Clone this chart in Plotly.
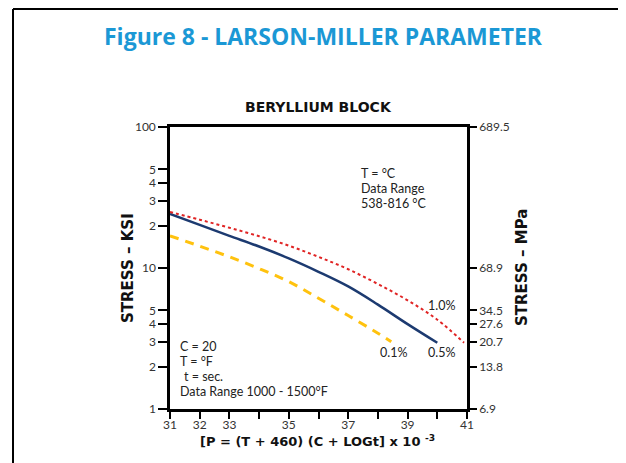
import plotly.graph_objects as go

# ---- data (P parameter x10^-3, stress ksi) ----
p_01 = [31, 32, 33, 34, 35, 36, 37, 38, 38.45]
s_01 = [16.9, 14.3, 12.0, 9.9, 8.0, 6.1, 4.6, 3.45, 3.0]

p_05 = [31, 32, 33, 34, 35, 36, 37, 38, 39, 40]
s_05 = [24.2, 20.2, 16.9, 14.2, 11.7, 9.4, 7.4, 5.5, 4.0, 2.95]

p_10 = [31, 32, 33, 34, 35, 36, 37, 38, 39, 40, 40.9]
s_10 = [25.0, 22.0, 19.3, 16.8, 14.4, 12.0, 9.8, 7.7, 5.9, 4.3, 2.95]

x_tickvals = [31, 32, 33, 35, 37, 39, 41]
ksi_tickvals = [1, 2, 3, 4, 5, 10, 20, 30, 40, 50, 100]
ksi_ticktext = ["1", "2", "3", "4", "5", "10", "2", "3", "4", "5", "100"]
mpa_tickvals = [1, 2, 3, 4, 5, 10, 100]
mpa_ticktext = ["6.9", "13.8", "20.7", "27.6", "34.5", "68.9", "689.5"]

FONT = "Lato"
BOLD = "DejaVu Sans"

fig = go.Figure()
fig.add_trace(go.Scatter(x=p_01, y=s_01, mode="lines", line=dict(color="#ffc20e", width=3, dash="9px,7px", shape="spline"), showlegend=False))
fig.add_trace(go.Scatter(x=p_05, y=s_05, mode="lines", line=dict(color="#1c3a70", width=2.5, shape="spline"), showlegend=False))
fig.add_trace(go.Scatter(x=p_10, y=s_10, mode="lines", line=dict(color="#e02424", width=2, dash="dot", shape="spline"), showlegend=False))
fig.add_trace(go.Scatter(x=[31], y=[1], yaxis="y2", mode="markers", marker=dict(opacity=0), showlegend=False, hoverinfo="skip"))

axis_common = dict(showline=True, linecolor="black", linewidth=2.5, ticks="outside",
                   tickcolor="black", tickwidth=2, showgrid=False, zeroline=False,
                   tickfont=dict(family=FONT, size=12, color="#333"))

border = dict(color="black", width=2)
fig.update_layout(
    width=626, height=463,
    margin=dict(l=162, r=167, t=119, b=62),
    paper_bgcolor="white", plot_bgcolor="white",
    xaxis=dict(range=[31, 41], tickmode="array", tickvals=x_tickvals, ticklen=7, ticklabelstandoff=-4,
               minor=dict(dtick=1, tick0=31, ticks="outside", ticklen=7, tickwidth=2, tickcolor="black"),
               mirror=True, **axis_common),
    yaxis=dict(type="log", range=[0, 2], tickmode="array", tickvals=ksi_tickvals, ticktext=ksi_ticktext,
               ticklen=9, mirror=True, **axis_common),
    yaxis2=dict(type="log", range=[0, 2], overlaying="y", side="right", tickmode="array",
                tickvals=mpa_tickvals, ticktext=mpa_ticktext, ticklen=7, **axis_common),
    shapes=[
        dict(type="line", xref="paper", yref="paper", x0=-0.5286, x1=1.5152, y0=1.4184, y1=1.4184, line=border),
        dict(type="line", xref="paper", yref="paper", x0=-0.5286, x1=-0.5286, y0=-0.25, y1=1.4184, line=border),
        dict(type="line", xref="paper", yref="paper", x0=1.5152, x1=1.5152, y0=-0.25, y1=1.4184, line=border),
    ],
)

ann = []
def A(text, x, y, size=12.5, bold=False, color="#222", family=FONT, xanchor="center",
      yanchor="middle", angle=0):
    if bold:
        text = "<b>" + text + "</b>"
    ann.append(dict(text=text, x=x, y=y, xref="paper", yref="paper", xanchor=xanchor, yanchor=yanchor,
                    showarrow=False, textangle=angle,
                    font=dict(family=family, size=size, color=color)))

# pixel helpers (reference-screen pixels -> plot paper fraction)
def px(x): return (x - 170) / 297.0
def py(y): return (409 - y) / 282.0

A("Figure 8 - LARSON-MILLER PARAMETER", px(323), py(36), size=23, bold=True, color="#1b98d5", family="Open Sans")
A("BERYLLIUM BLOCK", px(318), py(107), size=14, bold=True, color="#111", family=BOLD)
A("STRESS – KSI", px(128), py(268), size=15, bold=True, color="#111", family=BOLD, angle=-90)
A("STRESS – MPa", px(522), py(268), size=15, bold=True, color="#111", family=BOLD, angle=-90)
A("[P = (T + 460) (C + LOGt] x 10 <sup>-3</sup>", px(317), py(441), size=13, bold=True, color="#111", family=BOLD)
for txt, y in [("T = °C", 173), ("Data Range", 188), ("538-816 °C", 203)]:
    A(txt, px(359), py(y), xanchor="left")
for txt, x, y in [("C = 20", 178, 346.5), ("T = °F", 178, 361.5), ("t = sec.", 182, 376.5),
                  ("Data Range 1000 - 1500°F", 178, 391.5)]:
    A(txt, px(x), py(y), xanchor="left")
A("1.0%", px(441), py(305))
A("0.1%", px(393), py(352))
A("0.5%", px(441), py(352))

fig.update_layout(annotations=ann)
fig.write_html("out.html")
